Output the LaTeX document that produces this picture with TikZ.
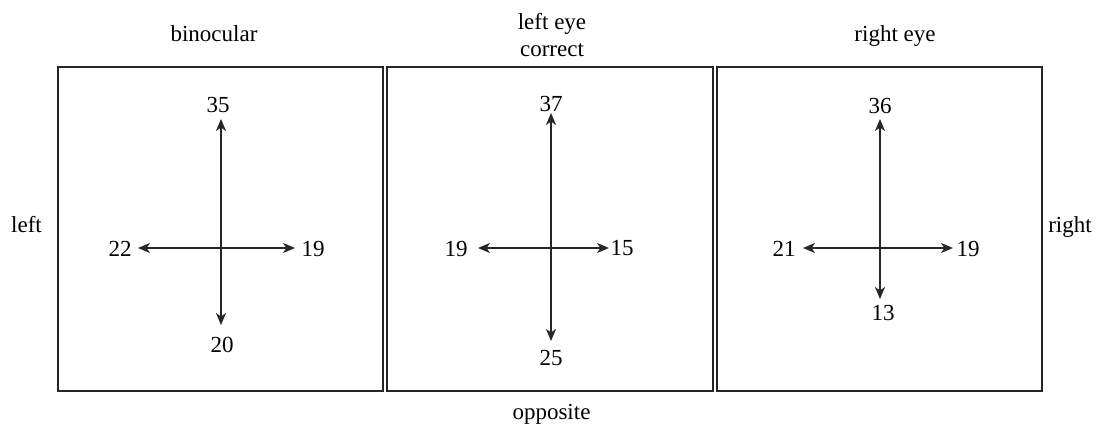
\documentclass[tikz,border=0pt]{standalone}
\usepackage{fontspec}
\setmainfont{Liberation Serif}
\usetikzlibrary{arrows.meta}
\tikzset{
  panel/.style={draw=black!85, line width=1.5pt},
  axis/.style={draw=black!85, line width=1.5pt, -{Stealth[length=12pt,width=10pt,inset=3.5pt]}},
  val/.style={inner sep=0pt, anchor=center, font=\fontsize{23}{28}\selectfont},
  ttl/.style={inner sep=0pt, anchor=base, font=\fontsize{23}{28}\selectfont},
}
\begin{document}
\begin{tikzpicture}[x=1pt,y=-1pt]
\useasboundingbox (0,0) rectangle (1096,425);
\fill[white] (0,0) rectangle (1096,425);

% panels
\draw[panel] (58,67) rectangle (383,391);
\draw[panel] (387,67) rectangle (713,391);
\draw[panel] (717,67) rectangle (1042,391);

% titles
\node[ttl] (tb) at (214,42) {binocular};
\node[ttl] (tl1) at (552,30) {left eye};
\node[ttl] (tl2) at (552,57) {correct};
\node[ttl] (tr) at (895,42) {right eye};
\node[ttl] (sl) at (26.5,233) {left};
\node[ttl] (sr) at (1070,233) {right};
\node[ttl] (so) at (551.5,419) {opposite};

% panel 1: binocular
\coordinate (c1) at (221,248);
\coordinate (u1) at (221,119);
\coordinate (d1) at (221,325);
\coordinate (l1) at (138,248);
\coordinate (r1) at (295,248);
\draw[axis] (c1) -- (u1);
\draw[axis] (c1) -- (d1);
\draw[axis] (c1) -- (l1);
\draw[axis] (c1) -- (r1);
\node[val] (nu1) at (218,105) {35};
\node[val] (nd1) at (222,345) {20};
\node[val] (nl1) at (120,248.5) {22};
\node[val] (nr1) at (313,248.5) {19};

% panel 2: left eye correct
\coordinate (c2) at (551,248);
\coordinate (u2) at (551,113);
\coordinate (d2) at (551,341);
\coordinate (l2) at (478,248);
\coordinate (r2) at (609,248);
\draw[axis] (c2) -- (u2);
\draw[axis] (c2) -- (d2);
\draw[axis] (c2) -- (l2);
\draw[axis] (c2) -- (r2);
\node[val] (nu2) at (551,103.5) {37};
\node[val] (nd2) at (551,358) {25};
\node[val] (nl2) at (456,248.5) {19};
\node[val] (nr2) at (622,248.5) {15};

% panel 3: right eye
\coordinate (c3) at (880,248);
\coordinate (u3) at (880,119);
\coordinate (d3) at (880,299);
\coordinate (l3) at (803,248);
\coordinate (r3) at (953,248);
\draw[axis] (c3) -- (u3);
\draw[axis] (c3) -- (d3);
\draw[axis] (c3) -- (l3);
\draw[axis] (c3) -- (r3);
\node[val] (nu3) at (880,105.5) {36};
\node[val] (nd3) at (883,313) {13};
\node[val] (nl3) at (784,248.5) {21};
\node[val] (nr3) at (968,248.5) {19};
\end{tikzpicture}
\end{document}
